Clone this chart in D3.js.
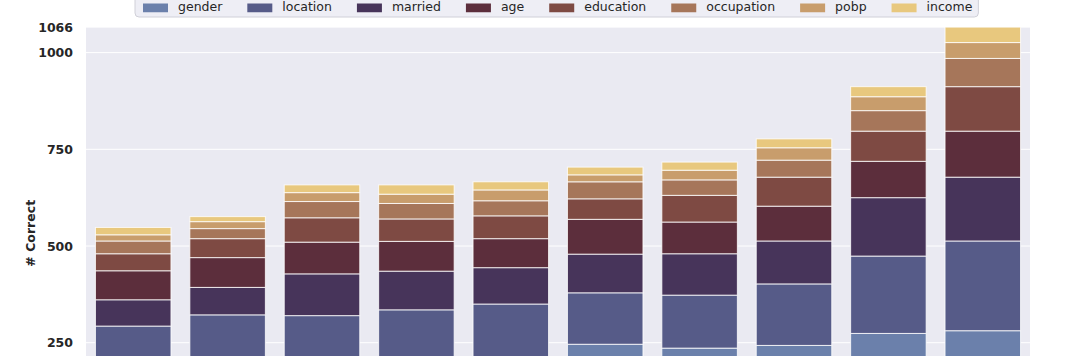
<!DOCTYPE html>
<html><head><meta charset="utf-8">
<script src="https://cdn.jsdelivr.net/npm/d3@7"></script>
<style>body{margin:0;background:#fff;overflow:hidden}svg{display:block}</style>
</head><body>
<script>
const categories = ["M1","M2","M3","M4","M5","M6","M7","M8","M9","M10"];
const seriesNames = ["gender","location","married","age","education","occupation","pobp","income"];
const gender     = [190,195,195,200,205,246,236,243,274,281];
const location_  = [103,127,125,135,145,133,137,159,200,232];
const married    = [68,71,108,100,94,100,107,111,151,165];
const age        = [75,77,82,77,75,90,82,90,94,119];
const education  = [44,49,63,58,59,53,69,75,78,115];
const occupation = [33,26,42,40,39,44,40,44,53,73];
const pobp       = [16,18,23,24,28,18,25,32,36,41];
const income     = [19,13,20,24,21,20,21,23,26,40];
const yTicks = [250,500,750,1000,1066];
const colors = ["#6b80ab","#565b88","#47345a","#5c2e3c","#7e4a43","#a6765a","#c89d6c","#e8c87e"];

const seriesVals = [gender,location_,married,age,education,occupation,pobp,income];
const rows = categories.map((c,i)=>{const r={cat:c};seriesNames.forEach((s,j)=>r[s]=seriesVals[j][i]);return r;});
const stack = d3.stack().keys(seriesNames)(rows);

const W=1080,H=356;
const plot={l:86,r:1030,t:27.1,b:439.4};
const svg=d3.select("body").append("svg").attr("width",W).attr("height",H);
const x=d3.scaleBand().domain(categories).range([plot.l,plot.r]).paddingInner(0.2).paddingOuter(0.1);
const y=d3.scaleLinear().domain([0,1066]).range([plot.b,plot.t]);

svg.append("rect").attr("x",plot.l).attr("y",plot.t).attr("width",plot.r-plot.l).attr("height",plot.b-plot.t).attr("fill","#EAEAF2");
svg.append("g").selectAll("line").data(yTicks).join("line")
  .attr("x1",plot.l).attr("x2",plot.r).attr("y1",d=>y(d)).attr("y2",d=>y(d))
  .attr("stroke","#fff").attr("stroke-width",1);

svg.append("g").selectAll("g").data(stack).join("g").attr("fill",(d,i)=>colors[i])
  .selectAll("rect").data(d=>d).join("rect")
  .attr("x",d=>x(d.data.cat)).attr("width",x.bandwidth())
  .attr("y",d=>y(d[1])).attr("height",d=>y(d[0])-y(d[1]))
  .attr("stroke","#fff").attr("stroke-opacity",0.8).attr("stroke-width",1);

const yAxis=svg.append("g").attr("transform",`translate(${plot.l},0)`)
  .call(d3.axisLeft(y).tickValues(yTicks).tickFormat(d3.format("d")).tickSize(0).tickPadding(13));
yAxis.select(".domain").remove();
yAxis.selectAll("text").attr("font-family","DejaVu Sans").attr("font-size","12.5px").attr("font-weight","bold").attr("fill","#262626");

svg.append("text").attr("transform",`translate(35,${(plot.t+plot.b)/2}) rotate(-90)`)
  .attr("text-anchor","middle").attr("font-family","DejaVu Sans").attr("font-size","12.5px").attr("font-weight","bold").attr("fill","#262626").text("# Correct");

// legend
const fs=12.5;
const lg=svg.append("g");
const box=lg.append("rect").attr("rx",4).attr("fill","#EAEAF2").attr("fill-opacity",0.8).attr("stroke","#d0d0d8").attr("stroke-width",1);
let cx=143;
seriesNames.forEach((s,i)=>{
  lg.append("rect").attr("x",cx).attr("y",3.5).attr("width",fs*2).attr("height",fs*0.7).attr("fill",colors[i]);
  cx+=fs*2+fs*0.8;
  const t=lg.append("text").attr("x",cx).attr("y",11).attr("font-family","DejaVu Sans").attr("font-size",fs+"px").attr("fill","#262626").text(s);
  cx+=t.node().getComputedTextLength()+fs*2;
});
box.attr("x",135).attr("y",-12).attr("width",cx-fs*2+6-135).attr("height",29);
</script>
</body></html>
